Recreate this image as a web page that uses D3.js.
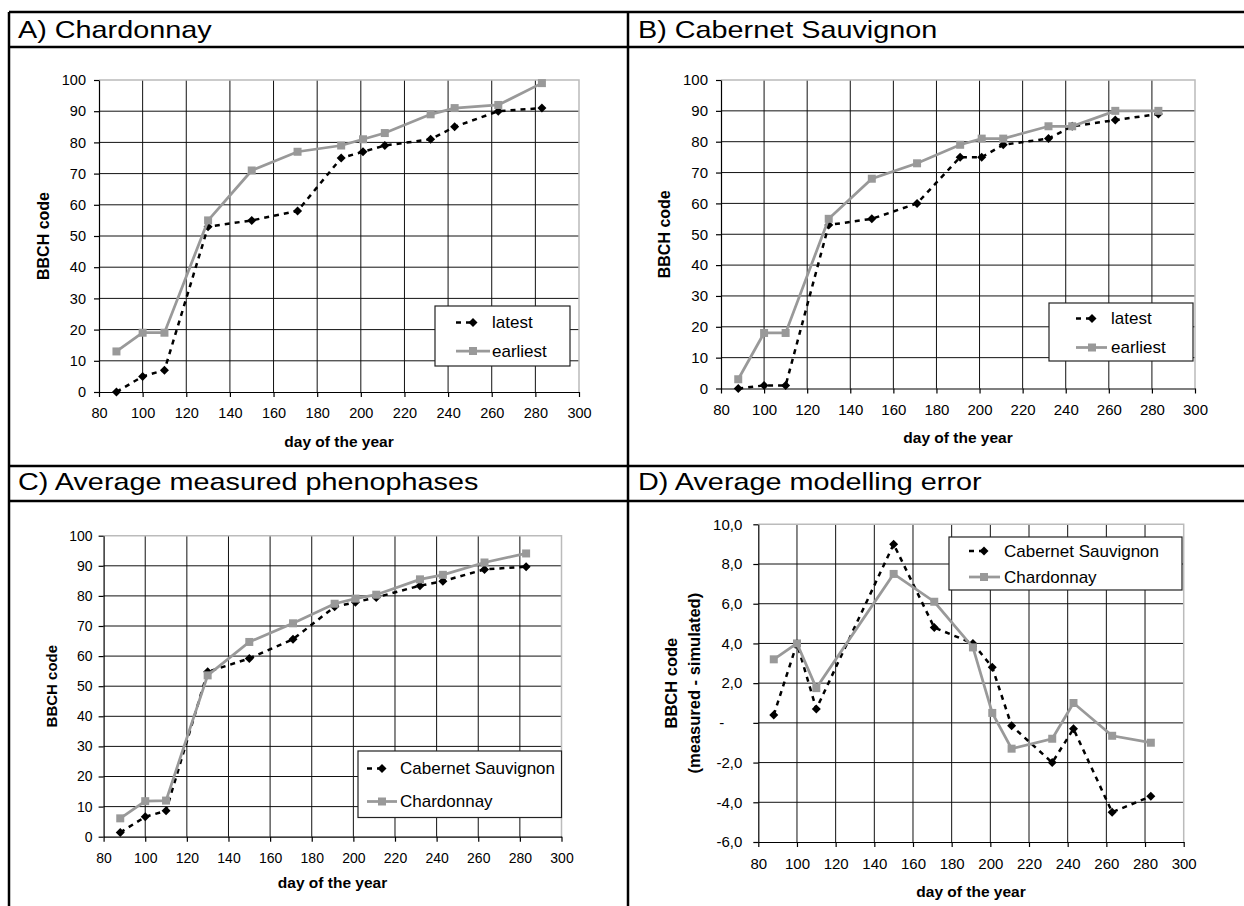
<!DOCTYPE html>
<html>
<head>
<meta charset="utf-8">
<script src="https://cdn.jsdelivr.net/npm/d3@7"></script>
<style>
  body { margin: 0; background: #fff; }
  svg { display: block; font-family: 'Liberation Sans', Arial, sans-serif; }
</style>
</head>
<body>
<svg id="chart" width="1244" height="906"></svg>
<script>
// day of the year of each observation
const days = [88, 100, 110, 130, 150, 171, 191, 201, 211, 232, 243, 263, 283];
// the error panel has no value on day 130
const daysError = [88, 100, 110, 150, 171, 191, 201, 211, 232, 243, 263, 283];

// A) Chardonnay, BBCH code
const chardonnayLatest = [0, 5, 7, 53, 55, 58, 75, 77, 79, 81, 85, 90, 91];
const chardonnayEarliest = [13, 19, 19, 55, 71, 77, 79, 81, 83, 89, 91, 92, 99];
// B) Cabernet Sauvignon, BBCH code
const cabernetLatest = [0, 1, 1, 53, 55, 60, 75, 75, 79, 81, 85, 87, 89];
const cabernetEarliest = [3, 18, 18, 55, 68, 73, 79, 81, 81, 85, 85, 90, 90];
// C) average measured phenophases
const averageCabernet = [1.4, 6.6, 8.6, 54.8, 59.2, 65.6, 76.4, 77.9, 79.5, 83.4, 84.9, 88.8, 89.7];
const averageChardonnay = [6.1, 11.8, 12.0, 53.6, 64.7, 70.9, 77.4, 79.1, 80.4, 85.5, 87.0, 91.1, 94.1];
// D) average modelling error (measured - simulated)
const errorCabernet = [0.4, 4.0, 0.7, 9.0, 4.8, 4.0, 2.8, -0.15, -2.0, -0.3, -4.5, -3.7];
const errorChardonnay = [3.2, 4.0, 1.75, 7.5, 6.1, 3.8, 0.5, -1.3, -0.8, 1.0, -0.65, -1.0];

// tick labels
const dayTicks = [80, 100, 120, 140, 160, 180, 200, 220, 240, 260, 280, 300];
const bbchTicks = [0, 10, 20, 30, 40, 50, 60, 70, 80, 90, 100];
const errorTicks = [-6, -4, -2, 0, 2, 4, 6, 8, 10];

const titles = ['A) Chardonnay', 'B) Cabernet Sauvignon',
  'C) Average measured phenophases', 'D) Average modelling error'];
const stageNames = ['latest', 'earliest'];
const varietyNames = ['Cabernet Sauvignon', 'Chardonnay'];
const xTitle = 'day of the year';

const svg = d3.select('#chart');

// table frame: outer border, column divider, title bands
const frame = svg.append('g').attr('stroke', '#000').attr('stroke-width', 2.5);
[12, 47, 466, 501].forEach(function(yy) {
  frame.append('line').attr('x1', 9).attr('x2', 1250).attr('y1', yy).attr('y2', yy);
});
[9, 628].forEach(function(xx) {
  frame.append('line').attr('x1', xx).attr('x2', xx).attr('y1', 12).attr('y2', 910);
});

// titles look horizontally stretched in the source, so scale them a bit
[[18, 37.5], [638, 37.5], [18, 489.5], [638, 489.5]].forEach(function(pos, i) {
  svg.append('text')
    .attr('transform', 'translate(' + pos[0] + ',' + pos[1] + ') scale(1.2,1)')
    .attr('font-size', 24)
    .text(titles[i]);
});

const panels = [{
  x: [99, 579], y: [392, 80], domain: [0, 100], ticks: bbchTicks,
  xs: days, series: [chardonnayLatest, chardonnayEarliest], names: stageNames,
  tickFont: 14.5, yPad: 8, ylabel: ['BBCH code'], ylabelX: [43], ylabelFont: 16, xlabelY: 442,
  legend: { x: 435, y: 306, w: 135, h: 60, rows: [322.5, 351], line: [456, 490], mark: 473, text: 492 },
}, {
  x: [721, 1195], y: [388.5, 80], domain: [0, 100], ticks: bbchTicks,
  xs: days, series: [cabernetLatest, cabernetEarliest], names: stageNames,
  tickFont: 15, yPad: 8, ylabel: ['BBCH code'], ylabelX: [664], ylabelFont: 16, xlabelY: 438,
  legend: { x: 1049, y: 303, w: 144, h: 58, rows: [318.5, 347.5], line: [1076, 1107], mark: 1092, text: 1111 },
}, {
  x: [103.6, 561.5], y: [836.7, 535.7], domain: [0, 100], ticks: bbchTicks,
  xs: days, series: [averageCabernet, averageChardonnay], names: varietyNames,
  tickFont: 14, yPad: 6, ylabel: ['BBCH code'], ylabelX: [52], ylabelFont: 15, xlabelY: 883,
  legend: { x: 358, y: 751, w: 203.5, h: 66.5, rows: [768.5, 801.5], line: [367, 397], mark: 382, text: 400 },
}, {
  x: [758.3, 1183.7], y: [842, 524.3], domain: [-6, 10], ticks: errorTicks,
  xs: daysError, series: [errorCabernet, errorChardonnay], names: varietyNames,
  tickFont: 15, yPad: 11, ylabel: ['BBCH code', '(measured - simulated)'], ylabelX: [671, 694],
  ylabelFont: 16.5, xlabelY: 892,
  format: function(d) { return d === 0 ? '-' : d.toFixed(1).replace('.', ','); },
  legend: { x: 949, y: 537, w: 233, h: 53, rows: [551, 577], line: [969, 1000], mark: 984, text: 1004 },
}];

const gray = '#999999';
const diamond = 'M0,-4.5L4.5,0L0,4.5L-4.5,0Z';
const square = 'M-4,-4H4V4H-4Z';

function styleSeries(sel, i) {
  if (i === 0) sel.attr('stroke', '#000').attr('stroke-width', 2.5).attr('stroke-dasharray', '5,5');
  else sel.attr('stroke', gray).attr('stroke-width', 2.75);
  return sel;
}

function drawPanel(p) {
  const x = d3.scaleLinear().domain([80, 300]).range(p.x);
  const y = d3.scaleLinear().domain(p.domain).range(p.y);
  const g = svg.append('g');

  // gridlines
  g.append('g').selectAll('line').data(dayTicks.slice(1, -1)).join('line')
    .attr('x1', x).attr('x2', x).attr('y1', p.y[0]).attr('y2', p.y[1])
    .attr('stroke', '#111').attr('stroke-width', 1);
  g.append('g').selectAll('line').data(p.ticks.slice(1, -1)).join('line')
    .attr('x1', p.x[0]).attr('x2', p.x[1]).attr('y1', y).attr('y2', y)
    .attr('stroke', '#111').attr('stroke-width', 1);

  // light plot-area border on top and right
  g.append('path')
    .attr('d', 'M' + p.x[0] + ',' + p.y[1] + 'H' + p.x[1] + 'V' + p.y[0])
    .attr('fill', 'none').attr('stroke', '#bbbbbb').attr('stroke-width', 1.5);

  // axes
  const xAxis = g.append('g').attr('transform', 'translate(0,' + p.y[0] + ')')
    .call(d3.axisBottom(x).tickValues(dayTicks).tickSizeInner(5).tickSizeOuter(0).tickPadding(11));
  const yAxis = g.append('g').attr('transform', 'translate(' + p.x[0] + ',0)')
    .call(d3.axisLeft(y).tickValues(p.ticks).tickSizeInner(5).tickSizeOuter(0).tickPadding(p.yPad)
      .tickFormat(p.format || d3.format('d')));
  [xAxis, yAxis].forEach(function(a) {
    a.attr('font-family', null).attr('font-size', p.tickFont);
    a.selectAll('.domain, .tick line').attr('stroke', '#000').attr('stroke-width', 1.2);
    a.selectAll('.tick text').attr('fill', '#000');
  });
  // accounting style zero, shifted left
  yAxis.selectAll('.tick text').filter(function(d) { return d === 0 && p.format; }).attr('dx', -18);

  // axis titles
  g.append('text').attr('x', (p.x[0] + p.x[1]) / 2).attr('y', p.xlabelY).attr('dy', '0.35em')
    .attr('text-anchor', 'middle').attr('font-weight', 'bold').attr('font-size', 15.5)
    .text(xTitle);
  p.ylabel.forEach(function(t, i) {
    g.append('text')
      .attr('transform', 'translate(' + p.ylabelX[i] + ',' + (p.y[0] + p.y[1]) / 2 + ') rotate(-90)')
      .attr('dy', '0.35em').attr('text-anchor', 'middle')
      .attr('font-weight', 'bold').attr('font-size', p.ylabelFont)
      .text(t);
  });

  // series: first is black dashed with diamonds, second gray with squares
  const line = d3.line().x(function(d, i) { return x(p.xs[i]); }).y(function(d) { return y(d); });
  p.series.forEach(function(values, i) {
    styleSeries(g.append('path').datum(values).attr('d', line).attr('fill', 'none'), i);
    g.append('g').selectAll('path').data(values).join('path')
      .attr('transform', function(d, j) { return 'translate(' + x(p.xs[j]) + ',' + y(d) + ')'; })
      .attr('d', i === 0 ? diamond : square)
      .attr('fill', i === 0 ? '#000' : gray);
  });

  // legend
  const L = p.legend;
  const lg = g.append('g');
  lg.append('rect').attr('x', L.x).attr('y', L.y).attr('width', L.w).attr('height', L.h)
    .attr('fill', '#fff').attr('stroke', '#222').attr('stroke-width', 1.2);
  p.names.forEach(function(name, i) {
    const ry = L.rows[i];
    styleSeries(lg.append('line')
      .attr('x1', L.line[0]).attr('x2', i === 0 ? L.mark : L.line[1])
      .attr('y1', ry).attr('y2', ry), i);
    lg.append('path').attr('transform', 'translate(' + L.mark + ',' + ry + ')')
      .attr('d', i === 0 ? diamond : square).attr('fill', i === 0 ? '#000' : gray);
    lg.append('text').attr('x', L.text).attr('y', ry).attr('dy', '0.35em')
      .attr('font-size', 17).text(name);
  });
}

panels.forEach(drawPanel);
</script>
</body>
</html>
